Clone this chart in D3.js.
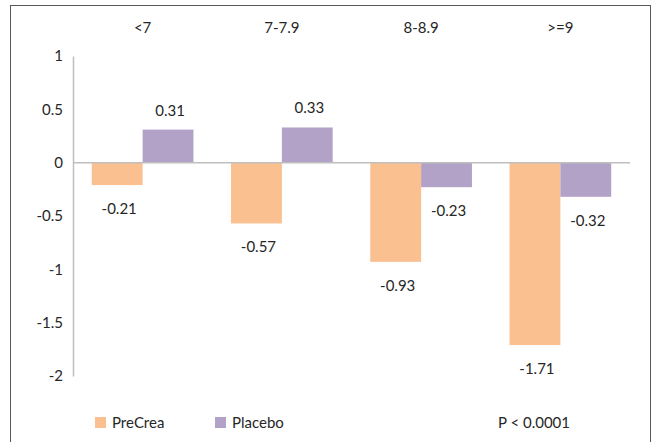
<!DOCTYPE html>
<html>
<head>
<meta charset="utf-8">
<script src="https://cdn.jsdelivr.net/npm/d3@7"></script>
<style>
  html, body { margin: 0; padding: 0; background: #fff; }
  svg text { font-family: Lato, "Liberation Sans", Arial, sans-serif; fill: #262626; }
</style>
</head>
<body>
<svg id="chart" width="659" height="442"></svg>
<script>
// HbA1c baseline groups and mean change per arm
const categories = ["<7", "7-7.9", "8-8.9", ">=9"];
const seriesNames = ["PreCrea", "Placebo"];
const preCrea = [-0.21, -0.57, -0.93, -1.71];
const placebo = [0.31, 0.33, -0.23, -0.32];
const yTicks = [1, 0.5, 0, -0.5, -1, -1.5, -2];
const colors = ["#FAC090", "#B3A2C7"];
const pValueText = "P < 0.0001";

const svg = d3.select("#chart");
const fontSize = "15px";

// outer frame
svg.append("rect")
  .attr("x", 10.5).attr("y", 5.5)
  .attr("width", 640).attr("height", 460)
  .attr("fill", "none").attr("stroke", "#595959").attr("stroke-width", 1);

const plot = { left: 73, right: 630, top: 56, bottom: 376 };

const x = d3.scaleBand()
  .domain(categories)
  .range([plot.left, plot.right])
  .paddingInner(0.27)
  .paddingOuter(0.135);

const xs = d3.scaleBand()
  .domain(seriesNames)
  .range([0, x.bandwidth()]);

const y = d3.scaleLinear()
  .domain([-2, 1])
  .range([plot.bottom, plot.top]);

// y axis
const yAxis = d3.axisLeft(y)
  .tickValues(yTicks)
  .tickSize(0)
  .tickPadding(10)
  .tickFormat(d => String(d));

const yg = svg.append("g")
  .attr("transform", `translate(${plot.left},0)`)
  .call(yAxis);
yg.select(".domain").attr("stroke", "#BFBFBF").attr("stroke-width", 1.5);
yg.selectAll("text")
  .style("font-size", fontSize)
  .style("font-family", "Lato, 'Liberation Sans', Arial, sans-serif")
  .attr("fill", "#262626");

// category labels along the top
svg.append("g")
  .selectAll("text")
  .data(categories)
  .join("text")
  .attr("x", d => x(d) + x.bandwidth() / 2)
  .attr("y", 33)
  .attr("text-anchor", "middle")
  .style("font-size", fontSize)
  .text(d => d);

// bars
const rows = categories.map((c, i) => ({
  cat: c,
  vals: [
    { name: seriesNames[0], v: preCrea[i], color: colors[0] },
    { name: seriesNames[1], v: placebo[i], color: colors[1] }
  ]
}));

const groups = svg.append("g")
  .selectAll("g")
  .data(rows)
  .join("g")
  .attr("transform", d => `translate(${x(d.cat)},0)`);

groups.selectAll("rect")
  .data(d => d.vals)
  .join("rect")
  .attr("x", d => xs(d.name))
  .attr("width", xs.bandwidth())
  .attr("y", d => Math.min(y(d.v), y(0)))
  .attr("height", d => Math.abs(y(d.v) - y(0)))
  .attr("fill", d => d.color);

groups.selectAll("text")
  .data(d => d.vals)
  .join("text")
  .attr("x", d => xs(d.name) + xs.bandwidth() / 2 + 2)
  .attr("y", d => d.v >= 0 ? y(d.v) - 14 : y(d.v) + 29)
  .attr("text-anchor", "middle")
  .style("font-size", fontSize)
  .text(d => d.v.toFixed(2));

// zero line
svg.append("line")
  .attr("x1", plot.left).attr("x2", plot.right)
  .attr("y1", y(0)).attr("y2", y(0))
  .attr("stroke", "#BFBFBF").attr("stroke-width", 1.5);

// legend
const legend = svg.append("g");
const legX = [95, 215];
seriesNames.forEach((n, i) => {
  legend.append("rect")
    .attr("x", legX[i]).attr("y", 417)
    .attr("width", 11).attr("height", 11)
    .attr("fill", colors[i]);
  legend.append("text")
    .attr("x", legX[i] + 17).attr("y", 428)
    .style("font-size", fontSize)
    .text(n);
});
legend.append("text")
  .attr("x", 498).attr("y", 428)
  .style("font-size", fontSize)
  .text(pValueText);
</script>
</body>
</html>
